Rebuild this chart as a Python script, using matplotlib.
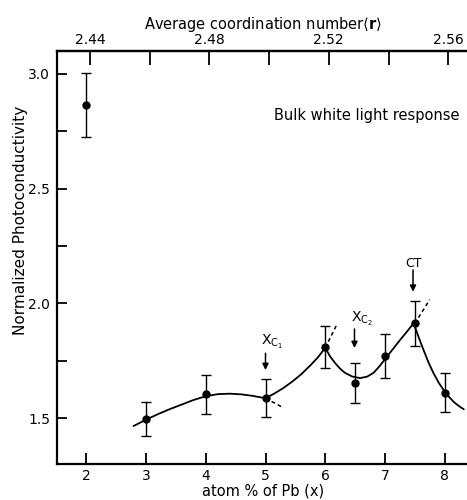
import matplotlib
matplotlib.use("Agg")
import matplotlib.pyplot as plt
from matplotlib.ticker import FixedLocator

# ---- data ----
x_pts = [2, 3, 4, 5, 6, 6.5, 7, 7.5, 8]
y_pts = [2.864, 1.497, 1.604, 1.589, 1.810, 1.653, 1.771, 1.913, 1.611]
y_err = [0.14, 0.075, 0.085, 0.082, 0.09, 0.088, 0.094, 0.098, 0.085]

# fitted curve segments
seg1_x = [2.79, 3.0, 3.2, 3.4, 3.6, 3.8, 4.0, 4.2, 4.4, 4.6, 4.8, 5.0]
seg1_y = [1.466, 1.494, 1.518, 1.540, 1.560, 1.580, 1.596, 1.605, 1.607, 1.604, 1.597, 1.587]
seg2_x = [5.0, 5.15, 5.3, 5.45, 5.6, 5.75, 5.88, 6.0]
seg2_y = [1.587, 1.608, 1.632, 1.660, 1.692, 1.730, 1.766, 1.807]
seg3_x = [6.0, 6.08, 6.17, 6.25, 6.33, 6.45, 6.58, 6.7, 6.81, 6.9, 7.0, 7.12, 7.25, 7.37, 7.48]
seg3_y = [1.807, 1.770, 1.739, 1.716, 1.698, 1.682, 1.675, 1.681, 1.698, 1.724, 1.757, 1.797, 1.840, 1.878, 1.914]
seg4_x = [7.48, 7.56, 7.65, 7.73, 7.81, 7.9, 8.0, 8.08, 8.16, 8.24, 8.32]
seg4_y = [1.914, 1.856, 1.795, 1.743, 1.698, 1.655, 1.616, 1.591, 1.569, 1.553, 1.539]
# dashed extrapolations
dash1_x = [5.0, 5.27]
dash1_y = [1.587, 1.550]
dash2_x = [6.0, 6.19]
dash2_y = [1.807, 1.906]
dash3_x = [7.5, 7.75]
dash3_y = [1.913, 2.017]

bottom_ticks = [2, 3, 4, 5, 6, 7, 8]
top_major = [2.44, 2.48, 2.52, 2.56]
top_minor = [2.46, 2.50, 2.54]
y_major = [1.5, 2.0, 2.5, 3.0]
y_minor = [1.75, 2.25, 2.75]

plt.rcParams['font.family'] = ['DejaVu Sans']
plt.rcParams['mathtext.fontset'] = 'dejavusans'
fig = plt.figure(figsize=(4.67, 5.0), dpi=100)
ax = fig.add_axes([57/467, 36.3/500, 413/467, 412.7/500])

lw_curve = 1.3
for sx, sy in [(seg1_x, seg1_y), (seg2_x, seg2_y), (seg3_x, seg3_y), (seg4_x, seg4_y)]:
    ax.plot(sx, sy, color='k', lw=lw_curve, solid_capstyle='round', solid_joinstyle='round')
for dx, dy in [(dash1_x, dash1_y), (dash2_x, dash2_y), (dash3_x, dash3_y)]:
    ax.plot(dx, dy, color='k', lw=1.1, ls=(0, (2.5, 2)))

ax.errorbar(x_pts, y_pts, yerr=y_err, fmt='o', color='k', ms=5, elinewidth=1.0,
            capsize=3.5, capthick=1.0)

ax.set_xlim(1.509, 8.424)
ax.set_ylim(1.302, 3.1)

for s in ['top', 'bottom', 'left']:
    ax.spines[s].set_linewidth(1.6)
ax.spines['right'].set_visible(False)

ax.xaxis.set_major_locator(FixedLocator(bottom_ticks))
ax.set_xticklabels([str(t) for t in bottom_ticks])
ax.yaxis.set_major_locator(FixedLocator(y_major))
ax.yaxis.set_minor_locator(FixedLocator(y_minor))
ax.set_yticklabels([f"{t:.1f}" for t in y_major])
ax.tick_params(axis='x', which='both', direction='in', length=8, width=1.3,
               top=False, labelsize=10, pad=4)
ax.tick_params(axis='y', which='both', direction='in', length=7, width=1.3,
               right=False, labelsize=10, pad=5)

ax.set_xlabel('atom % of Pb (x)', fontsize=10.5, labelpad=0)

fig.text(21/467, 1 - 220/500, 'Normalized Photoconductivity', rotation=90,
         ha='center', va='center', fontsize=11)

sec = ax.secondary_xaxis('top', functions=(lambda v: 2.4 + 0.02 * (v - 0.06),
                                             lambda r: (r - 2.4) / 0.02 + 0.06))
sec.xaxis.set_major_locator(FixedLocator(top_major))
sec.xaxis.set_minor_locator(FixedLocator(top_minor))
sec.set_xticklabels([f"{t:.2f}" for t in top_major])
sec.tick_params(axis='x', which='both', direction='in', length=10, width=1.3,
                labelsize=10, pad=3)
sec.spines['top'].set_linewidth(1.6)
sec.set_xlabel(r'Average coordination number$\langle\mathbf{r}\rangle$', fontsize=10.5, labelpad=3)

ax.text(8.25, 2.82, 'Bulk white light response', ha='right', va='center', fontsize=10.5)

# arrows and annotations
arrow_kw = dict(arrowstyle='-|>', color='k', lw=1.1, mutation_scale=9,
                shrinkA=0, shrinkB=0)
ax.annotate('', xy=(5.0, 1.710), xytext=(5.0, 1.783), arrowprops=arrow_kw)
ax.text(4.93, 1.834, r'X$_{\mathrm{C_1}}$', ha='left', va='center', fontsize=10)
ax.annotate('', xy=(6.49, 1.806), xytext=(6.49, 1.889), arrowprops=arrow_kw)
ax.text(6.43, 1.933, r'X$_{\mathrm{C_2}}$', ha='left', va='center', fontsize=10)
ax.annotate('', xy=(7.47, 2.051), xytext=(7.47, 2.146), arrowprops=arrow_kw)
ax.text(7.47, 2.176, 'CT', ha='center', va='center', fontsize=9)

fig.savefig('out.png', dpi=100)
